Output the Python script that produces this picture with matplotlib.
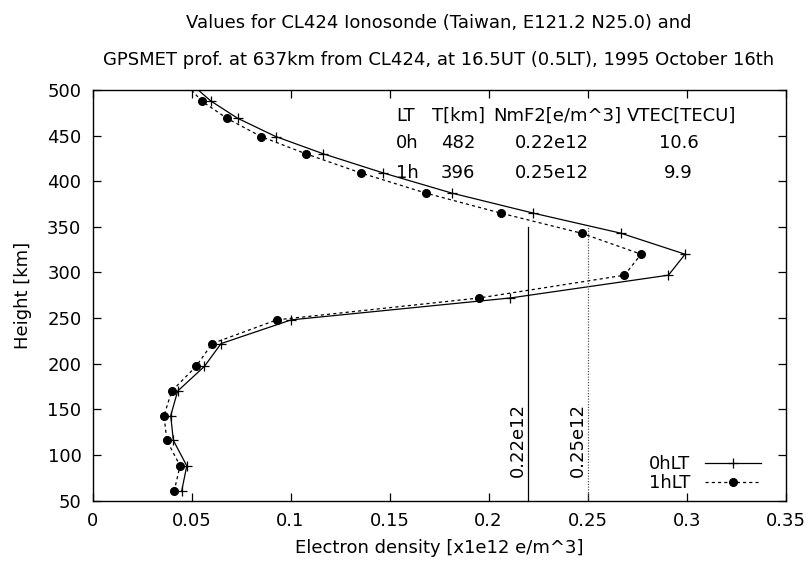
import matplotlib
matplotlib.use("Agg")
import matplotlib.pyplot as plt
from matplotlib.ticker import FixedLocator

plt.rcParams['font.family'] = ['DejaVu Sans']

# Electron density profiles (x1e12 e/m^3) versus height (km)
heights = [60, 88, 116, 143, 170, 197, 222, 248, 272, 297, 320, 343,
           365, 387, 409, 430, 449, 469, 488, 507]
dens_0h = [0.0450, 0.0476, 0.0408, 0.0395, 0.0430, 0.0565, 0.0649, 0.1003,
           0.2109, 0.2908, 0.2992, 0.2668, 0.2226, 0.1814, 0.1469, 0.1166,
           0.0925, 0.0733, 0.0597, 0.0497]
dens_1h = [0.0412, 0.0442, 0.0375, 0.0361, 0.0400, 0.0523, 0.0604, 0.0930,
           0.1952, 0.2686, 0.2770, 0.2469, 0.2062, 0.1683, 0.1356, 0.1078,
           0.0851, 0.0678, 0.0551, 0.0470]

series_labels = ["0hLT", "1hLT"]
nmf2_values = [0.22, 0.25]
nmf2_labels = ["0.22e12", "0.25e12"]

table_header = ["LT", "T[km]", "NmF2[e/m^3]", "VTEC[TECU]"]
table_rows = [["0h", "482", "0.22e12", "10.6"],
              ["1h", "396", "0.25e12", "9.9"]]

x_ticks = [0, 0.05, 0.1, 0.15, 0.2, 0.25, 0.3, 0.35]
x_ticklabels = ["0", "0.05", "0.1", "0.15", "0.2", "0.25", "0.3", "0.35"]
y_ticks = [50, 100, 150, 200, 250, 300, 350, 400, 450, 500]

title_lines = ["Values for CL424 Ionosonde (Taiwan, E121.2 N25.0) and",
               "GPSMET prof. at 637km from CL424, at 16.5UT (0.5LT), 1995 October 16th"]

W, H, DPI = 807, 566, 100
fig = plt.figure(figsize=(W / DPI, H / DPI), dpi=DPI)
ax = fig.add_axes([92.5 / W, 1 - 500.5 / H, (785.7 - 92.5) / W, (500.5 - 90) / H])

fs = 13


def fx(px):
    return px / W


def fy(py):
    return 1 - py / H


ax.plot(dens_0h, heights, color='black', lw=0.9, marker='+', ms=7,
        mew=0.9, label=series_labels[0])
ax.plot(dens_1h, heights, color='black', lw=0.9, ls=(0, (2.5, 2.5)),
        marker='o', ms=5.5, label=series_labels[1])

# NmF2 markers
ax.plot([nmf2_values[0]] * 2, [50, 350], color='black', lw=0.9)
ax.plot([nmf2_values[1]] * 2, [50, 350], color='#555555', lw=0.9,
        ls=(0, (1, 1.2)))
for xv, lab in zip(nmf2_values, nmf2_labels):
    ax.text(xv - 0.0005, 76, lab, rotation=90, ha='right', va='bottom',
            fontsize=fs)

ax.set_xlim(0, 0.35)
ax.set_ylim(50, 500)
ax.xaxis.set_major_locator(FixedLocator(x_ticks))
ax.set_xticklabels(x_ticklabels)
ax.yaxis.set_major_locator(FixedLocator(y_ticks))
ax.tick_params(direction='in', length=6, width=0.9, top=True, right=True,
               labelsize=fs, pad=8)
for sp in ax.spines.values():
    sp.set_linewidth(1.0)

fig.text(fx(439), fy(553), "Electron density [x1e12 e/m^3]", fontsize=fs,
         ha='center', va='baseline')
fig.text(fx(23), fy(295), "Height [km]", fontsize=fs, rotation=90,
         ha='center', va='center')

# Info table
header_x = [396, 431.5, 493, 626.5]
row_x = [[396, 441, 515, 659], [396, 441, 515, 664]]
row_y = [148.3, 178.3]
for j, txt in enumerate(table_header):
    fig.text(fx(header_x[j]), fy(121), txt, fontsize=fs, ha='left',
             va='baseline')
for i, row in enumerate(table_rows):
    for j, txt in enumerate(row):
        fig.text(fx(row_x[i][j]), fy(row_y[i]), txt, fontsize=fs, ha='left',
                 va='baseline')

leg = ax.legend(loc='lower right', bbox_to_anchor=(fx(761), fy(492)),
                bbox_transform=fig.transFigure,
                markerfirst=False, frameon=False, fontsize=fs,
                handlelength=3.1, handletextpad=0.8, labelspacing=0.05,
                borderaxespad=0, borderpad=0)

fig.text(fx(439), fy(28.3), title_lines[0], ha='center', va='baseline',
         fontsize=fs)
fig.text(fx(439), fy(65), title_lines[1], ha='center', va='baseline',
         fontsize=fs)

fig.savefig("out.png", dpi=DPI)
